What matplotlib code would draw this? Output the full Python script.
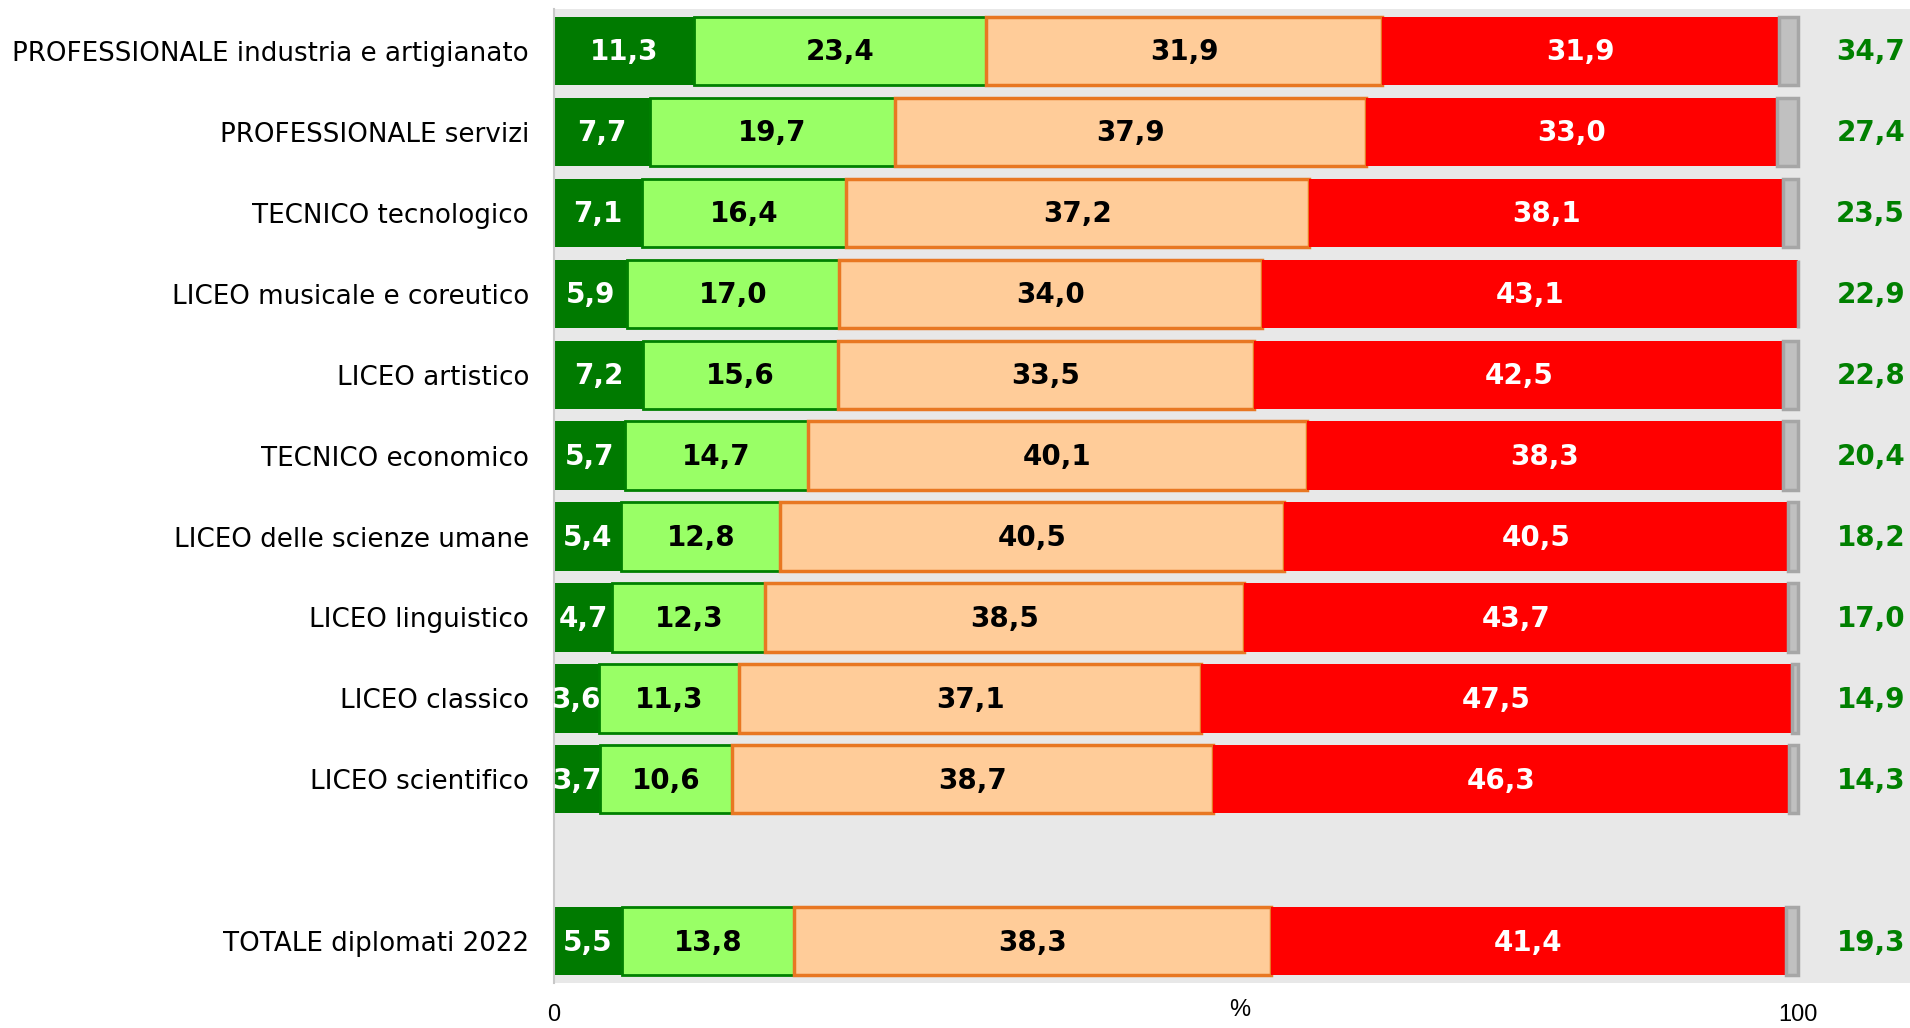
import numpy as np
import matplotlib
matplotlib.use("Agg")
import matplotlib.pyplot as plt

# =========================
# Dati
# =========================
categorie = [
    "PROFESSIONALE industria e artigianato",
    "PROFESSIONALE servizi",
    "TECNICO tecnologico",
    "LICEO musicale e coreutico",
    "LICEO artistico",
    "TECNICO economico",
    "LICEO delle scienze umane",
    "LICEO linguistico",
    "LICEO classico",
    "LICEO scientifico",
    "TOTALE diplomati 2022",
]
pos_y = [0, 1, 2, 3, 4, 5, 6, 7, 8, 9, 11]

molto = [11.3, 7.7, 7.1, 5.9, 7.2, 5.7, 5.4, 4.7, 3.6, 3.7, 5.5]
abbastanza = [23.4, 19.7, 16.4, 17.0, 15.6, 14.7, 12.8, 12.3, 11.3, 10.6, 13.8]
poco = [31.9, 37.9, 37.2, 34.0, 33.5, 40.1, 40.5, 38.5, 37.1, 38.7, 38.3]
per_niente = [31.9, 33.0, 38.1, 43.1, 42.5, 38.3, 40.5, 43.7, 47.5, 46.3, 41.4]
non_risponde = [1.5, 1.7, 1.2, 0.0, 1.2, 1.2, 0.8, 0.8, 0.5, 0.7, 1.0]
totale_positivo = [34.7, 27.4, 23.5, 22.9, 22.8, 20.4, 18.2, 17.0, 14.9, 14.3, 19.3]

serie = [molto, abbastanza, poco, per_niente, non_risponde]
colori = ["#007A00", "#99FF66", "#FFCC99", "#FF0000", "#C0C0C0"]
bordi = ["#007A00", "#008000", "#E87722", "#FF0000", "#A6A6A6"]
spessori = [0, 2, 2.5, 0, 2.5]
col_testo = ["white", "black", "black", "white", None]

# =========================
# Grafico
# =========================
fig = plt.figure(figsize=(19.10, 10.28), dpi=100)
ax = fig.add_axes([0.29, 0.044, 0.71, 0.947])
ax.set_facecolor("#E8E8E8")

altezza = 0.84
left = np.zeros(len(categorie))
for vals, c, b, lw, tc in zip(serie, colori, bordi, spessori, col_testo):
    vals = np.array(vals)
    bars = ax.barh(pos_y, vals, left=left, height=altezza, color=c,
                   edgecolor=b, linewidth=lw, zorder=2)
    if tc is not None:
        for rect, v, l, y in zip(bars, vals, left, pos_y):
            t = ax.text(l + v / 2, y + 0.02, f"{v:.1f}".replace(".", ","),
                        ha="center", va="center", color=tc,
                        fontsize=20, fontweight="bold", zorder=3)
            t.set_clip_path(rect)
    left = left + vals

for y, v in zip(pos_y, totale_positivo):
    ax.text(108.6, y + 0.02, f"{v:.1f}".replace(".", ","), ha="right", va="center",
            color="#008000", fontsize=20, fontweight="bold")

ax.set_xlim(0, 109.0)
ax.set_ylim(11.51, -0.51)
ax.set_yticks(pos_y)
ax.set_yticklabels(categorie, fontsize=18.8)
ax.tick_params(axis="y", length=0, pad=18)
ax.set_xticks([])
for s in ["top", "right", "bottom"]:
    ax.spines[s].set_visible(False)
ax.spines["left"].set_color("#C8C8C8")
ax.spines["left"].set_linewidth(1.5)

# etichette asse x
fig.text(554 / 1910, 1 - 1015 / 1028, "0", ha="center", va="center",
         fontsize=17, family="Liberation Sans")
fig.text(1240 / 1910, 1 - 1010 / 1028, "%", ha="center", va="center",
         fontsize=17, family="Liberation Sans")
fig.text(1798 / 1910, 1 - 1015 / 1028, "100", ha="center", va="center",
         fontsize=17, family="Liberation Sans")

fig.savefig("out.png", dpi=100, facecolor="white")
